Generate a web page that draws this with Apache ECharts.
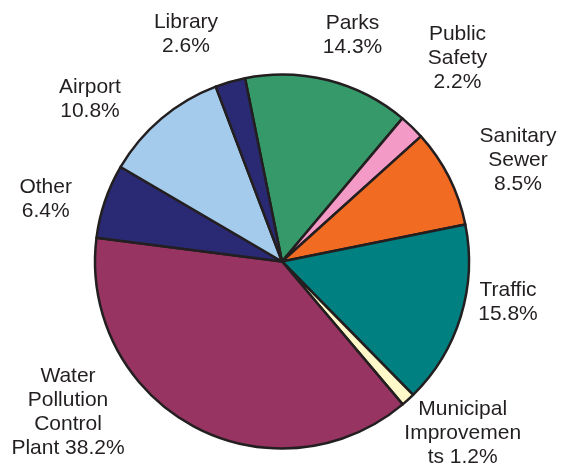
<!DOCTYPE html>
<html>
<head>
<meta charset="utf-8">
<script src="https://cdn.jsdelivr.net/npm/echarts@6/dist/echarts.min.js"></script>
<style>html,body{margin:0;padding:0;background:#fff;}#c{width:561px;height:465px;}</style>
</head>
<body>
<div id="c"></div>
<script>
var categories = ['Parks', 'Public Safety', 'Sanitary Sewer', 'Traffic', 'Municipal Improvements', 'Water Pollution Control Plant', 'Other', 'Airport', 'Library'];
var values = [14.3, 2.2, 8.5, 15.8, 1.2, 38.2, 6.4, 10.8, 2.6];
var labelNames = ['Parks\n', 'Public\nSafety\n', 'Sanitary\nSewer\n', 'Traffic\n', 'Municipal\nImprovemen\nts ', 'Water\nPollution\nControl\nPlant ', 'Other\n', 'Airport\n', 'Library\n'];
var colors = ['#36996a', '#f49ac6', '#f26b22', '#008080', '#fff8c8', '#983462', '#2a2a74', '#a4caec', '#2a2a74'];
// label centre positions (layout only)
var labelPos = [[352.5, 35.5], [457.5, 58.2], [518, 160.5], [508, 302], [462.7, 433], [68, 412], [45.7, 199], [90, 99], [186, 34.3]];

var chart = echarts.init(document.getElementById('c'), null, {renderer: 'canvas'});
chart.setOption({
  animation: false,
  series: [{
    type: 'pie',
    center: [282, 261.5],
    radius: [0, 187],
    startAngle: 101.4,
    clockwise: true,
    minAngle: 0,
    avoidLabelOverlap: false,
    itemStyle: {borderColor: '#231f20', borderWidth: 2.5},
    emphasis: {disabled: true},
    label: {
      show: true,
      position: 'outside',
      color: '#231f20',
      fontFamily: 'Liberation Sans, Arial, sans-serif',
      fontSize: 21,
      lineHeight: 24,
      align: 'center',
      formatter: function (p) { return labelNames[p.dataIndex] + values[p.dataIndex].toFixed(1) + '%'; }
    },
    labelLine: {show: false},
    labelLayout: function (p) {
      var pos = labelPos[p.dataIndex];
      return {x: pos[0], y: pos[1], align: 'center', verticalAlign: 'middle'};
    },
    data: categories.map(function (c, i) {
      return {name: c, value: values[i], itemStyle: {color: colors[i]}};
    })
  }]
});
</script>
</body>
</html>
